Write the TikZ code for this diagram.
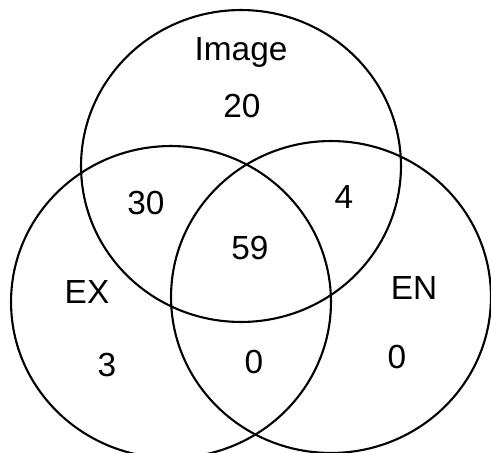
\documentclass[tikz,border=0pt]{standalone}
\usepackage{fontspec}
\setmainfont{Liberation Sans}
\usetikzlibrary{shapes.geometric}
\begin{document}
\begin{tikzpicture}[x=0.02cm, y=-0.02cm]
  % Define styles for sets and counts
  \tikzset{
    set/.style={
      draw,
      ellipse,
      minimum width=6.4cm,
      minimum height=6.24cm,
      inner sep=0pt,
      line width=1.2pt
    },
    count/.style={
      font=\fontsize{19}{22}\selectfont,
      inner sep=0pt
    }
  }
  \useasboundingbox (0,0) rectangle (491,453);

  % Three overlapping sets
  \node[set] (image) at (241,166) {};
  \node[set] (ex) at (171,302) {};
  \node[set] (en) at (331,297) {};

  % Set names
  \node[count] (imagename) at (241,52) {Image};
  \node[count] (exname) at (87,292) {EX};
  \node[count] (enname) at (414,288) {EN};

  % Region counts
  \node[count] (imageonly) at (242,106) {20};
  \node[count] (imageex) at (146,203) {30};
  \node[count] (imageen) at (344,197) {4};
  \node[count] (all) at (250,248) {59};
  \node[count] (exonly) at (107,365) {3};
  \node[count] (exen) at (254,362) {0};
  \node[count] (enonly) at (397,357) {0};
\end{tikzpicture}
\end{document}
